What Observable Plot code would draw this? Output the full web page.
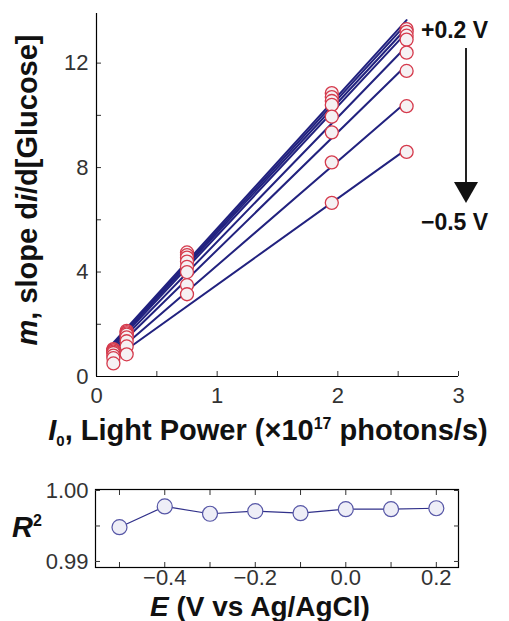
<!DOCTYPE html>
<html><head><meta charset="utf-8">
<script src="https://cdn.jsdelivr.net/npm/d3@7"></script>
<script src="https://cdn.jsdelivr.net/npm/@observablehq/plot@0.6"></script>
<style>
body{margin:0;background:#fff;font-family:"Liberation Sans",Arial,sans-serif;}
#wrap{position:relative;width:509px;height:621px;overflow:hidden;background:#fff}
.abs{position:absolute}
.lbl{font-weight:bold;font-size:29px;color:#111;white-space:nowrap;line-height:1}
.ann{font-weight:bold;font-size:23px;color:#111;white-space:nowrap;line-height:1}
</style></head><body>
<div id="wrap">
  <div id="topChart" class="abs" style="left:0;top:0"></div>
  <div id="botChart" class="abs" style="left:0;top:470px"></div>
  <div class="abs lbl" style="left:27px;top:190px;transform:translate(-50%,-50%) rotate(-90deg)"><i>m</i>, slope d<i>i</i>/d[Glucose]</div>
  <div class="abs lbl" style="left:268px;top:432px;transform:translate(-50%,-50%)"><i>I</i><sub style="font-size:15px">0</sub>, Light Power (×10<sup style="font-size:16px">17</sup> photons/s)</div>
  <div class="abs lbl" style="left:12px;top:527px;transform:translate(0,-50%)"><i>R</i><sup style="font-size:16px">2</sup></div>
  <div class="abs lbl" style="left:260px;top:607px;transform:translate(-50%,-50%);font-size:28px"><i>E</i> (V vs Ag/AgCl)</div>
  <div class="abs ann" style="left:421px;top:30px;transform:translate(0,-50%)">+0.2 V</div>
  <div class="abs ann" style="left:421px;top:222px;transform:translate(0,-50%)">−0.5 V</div>
  <svg class="abs" style="left:440px;top:40px" width="50" height="170">
    <line x1="26" y1="8" x2="26" y2="145" stroke="#222" stroke-width="2"/>
    <polygon points="14,142 38,142 26,163" fill="#111"/>
  </svg>
</div>
<script>
// Light power (x10^17 photons/s)
const lightPower = [0.14, 0.25, 0.75, 1.95, 2.57];
// Electrode potentials (V vs Ag/AgCl)
const potentials = [0.2, 0.1, 0.0, -0.1, -0.2, -0.3, -0.4, -0.5];
// slope m for each potential at each light power
const slopeP02 = [1.05, 1.75, 4.75, 10.85, 13.3];
const slopeP01 = [1.00, 1.70, 4.65, 10.70, 13.2];
const slopeP00 = [1.00, 1.65, 4.55, 10.55, 13.05];
const slopeM01 = [0.95, 1.60, 4.40, 10.40, 12.9];
const slopeM02 = [0.90, 1.50, 4.20, 9.95, 12.4];
const slopeM03 = [0.80, 1.35, 4.00, 9.35, 11.7];
const slopeM04 = [0.70, 1.15, 3.50, 8.20, 10.35];
const slopeM05 = [0.50, 0.85, 3.15, 6.65, 8.6];
const slopeSeries = [slopeP02, slopeP01, slopeP00, slopeM01, slopeM02, slopeM03, slopeM04, slopeM05];

// R^2 vs potential
const rPotential = [-0.5, -0.4, -0.3, -0.2, -0.1, 0.0, 0.1, 0.2];
const rSquared = [0.99483, 0.99775, 0.99672, 0.99709, 0.9968, 0.99737, 0.99737, 0.9975];

// ticks
const topXTicks = [0, 1, 2, 3];
const topXMinor = [0.5, 1.5, 2.5];
const topYTicks = [0, 4, 8, 12];
const topYMinor = [2, 6, 10];
const botXTicks = [-0.4, -0.2, 0.0, 0.2];
const botXMinor = [-0.5, -0.3, -0.1, 0.1];
const botYTicks = [0.99, 1.0];
const botYMinor = [0.995];

const table = [];
potentials.forEach((p, i) => lightPower.forEach((x, j) => table.push({series: p, x, m: slopeSeries[i][j]})));
const rTable = rPotential.map((e, i) => ({e, r: rSquared[i]}));

const font = '"Liberation Sans", Arial, sans-serif';
const blank = () => "";

const topPlot = Plot.plot({
  width: 509, height: 400,
  marginLeft: 96, marginRight: 51, marginTop: 13, marginBottom: 24,
  style: {fontFamily: font, fontSize: "22px", color: "#333", background: "transparent", overflow: "visible"},
  x: {domain: [0, 3]},
  y: {domain: [0, 13.9]},
  marks: [
    Plot.axisX(topXTicks, {tickSize: -5, tickPadding: 16, tickFormat: d3.format("d"), label: null}),
    Plot.axisX(topXMinor, {tickSize: -5, tickFormat: blank, label: null}),
    Plot.axisY(topYTicks, {tickSize: -5, tickPadding: 13, tickFormat: d3.format("d"), label: null}),
    Plot.axisY(topYMinor, {tickSize: -5, tickFormat: blank, label: null}),
    Plot.ruleX([0], {stroke: "#000", strokeWidth: 1.2}),
    Plot.ruleY([0], {stroke: "#000", strokeWidth: 1.2}),
    Plot.linearRegressionY(table, {x: "x", y: "m", z: "series", stroke: "#22227f", strokeWidth: 2, ci: 0}),
    Plot.dot(table, {x: "x", y: "m", r: 6.5, fill: "#f6f1f3", stroke: "#d53a4c", strokeWidth: 1.3})
  ]
});
document.getElementById("topChart").appendChild(topPlot);

const botPlot = Plot.plot({
  width: 509, height: 130,
  marginLeft: 95, marginRight: 51, marginTop: 19, marginBottom: 33,
  style: {fontFamily: font, fontSize: "22px", color: "#333", background: "transparent", overflow: "visible"},
  x: {domain: [-0.553, 0.249]},
  y: {domain: [0.98915, 1.00014]},
  marks: [
    Plot.frame({stroke: "#000", strokeWidth: 1.2}),
    Plot.axisX(botXTicks, {tickSize: -5, tickPadding: 7, tickFormat: d3.format(".1f"), label: null}),
    Plot.axisX(botXMinor, {tickSize: -5, tickFormat: blank, label: null}),
    Plot.axisX(botXTicks.concat(botXMinor), {anchor: "top", tickSize: -5, tickFormat: blank, label: null}),
    Plot.axisY(botYTicks, {tickSize: -5, tickPadding: 12, tickFormat: d3.format(".2f"), label: null}),
    Plot.axisY(botYMinor, {tickSize: -5, tickFormat: blank, label: null}),
    Plot.axisY(botYTicks.concat(botYMinor), {anchor: "right", tickSize: -5, tickFormat: blank, label: null}),
    Plot.line(rTable, {x: "e", y: "r", stroke: "#30308a", strokeWidth: 1.2}),
    Plot.dot(rTable, {x: "e", y: "r", r: 7.5, fill: "#eeeef7", stroke: "#5656a6", strokeWidth: 1.2})
  ]
});
document.getElementById("botChart").appendChild(botPlot);
</script>
</body></html>
